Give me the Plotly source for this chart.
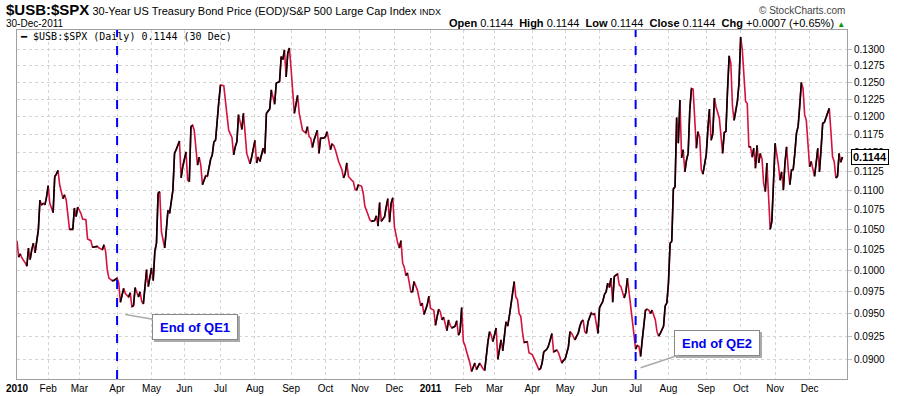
import math
import pandas as pd
import plotly.graph_objects as go

# ---------------- data ----------------
HOLIDAYS = ["2010-01-01", "2010-01-18", "2010-02-15", "2010-04-02", "2010-05-31", "2010-07-05",
            "2010-09-06", "2010-11-25", "2010-12-24", "2011-01-17", "2011-02-21", "2011-04-22",
            "2011-05-30", "2011-07-04", "2011-09-05", "2011-11-24", "2011-12-26"]

# trading-session number (0 = 4 Jan 2010 ... 503 = 30 Dec 2011)
SESSIONS = [
    0, 1, 2, 3, 5, 6, 7, 8, 9, 10, 11, 13, 14, 15, 16, 17, 18, 19, 20, 22, 23, 24, 25, 26, 28, 29, 30, 31, 32,
    34, 35, 36, 37, 39, 40, 42, 43, 45, 46, 49, 50, 52, 53, 54, 55, 56, 58, 59, 61, 62, 63, 65, 66, 68, 69,
    70, 71, 72, 74, 75, 76, 77, 78, 79, 80, 82, 83, 84, 85, 86, 87, 88, 90, 91, 92, 93, 95, 96, 97, 99, 100,
    101, 103, 104, 105, 106, 107, 108, 110, 111, 112, 113, 115, 116, 118, 119, 120, 121, 123, 124, 126, 128,
    129, 131, 132, 133, 134, 135, 136, 137, 138, 139, 140, 142, 143, 145, 146, 147, 148, 150, 151, 152, 154,
    155, 157, 158, 160, 161, 162, 163, 164, 165, 166, 167, 168, 169, 171, 172, 173, 174, 176, 177, 178, 179,
    180, 181, 183, 184, 185, 187, 188, 189, 191, 192, 193, 194, 196, 197, 198, 199, 200, 201, 202, 204, 205,
    206, 207, 208, 210, 211, 212, 214, 215, 216, 218, 219, 220, 221, 222, 224, 225, 226, 227, 228, 229, 230,
    232, 233, 234, 235, 236, 237, 238, 240, 241, 242, 244, 246, 247, 248, 250, 251, 252, 254, 255,
    256, 257, 258, 259, 260, 262, 263, 264, 265, 267, 268, 269, 270, 271, 272, 273, 274, 276, 277, 279, 280,
    282, 284, 285, 287, 288, 289, 290, 292, 293, 295, 296, 298, 299, 300, 302, 303, 304, 305, 306, 307, 308,
    309, 311, 312, 314, 315, 316, 318, 319, 320, 321, 323, 324, 326, 327, 329, 330, 332, 333, 334, 336, 337,
    338, 340, 341, 342, 343, 344, 345, 346, 347, 348, 350, 351, 352, 353, 354, 355, 357, 358, 359, 360, 361,
    362, 363, 364, 366, 367, 368, 370, 371, 372, 374, 375, 376, 377, 378, 379, 380, 381, 383,
    384, 385, 386, 387, 389, 390, 391, 392, 394, 395, 396, 397, 398, 399, 400, 401, 402, 403, 404, 405, 406,
    407, 408, 409, 410, 411, 412, 414, 415, 416, 417, 418, 420, 421, 422, 423, 424, 425, 426, 428, 429, 430,
    431, 432, 433, 434, 435, 436, 437, 439, 440, 441, 442, 443, 444, 445, 446, 447, 448, 449, 450, 451, 452,
    453, 454, 455, 456, 457, 458, 459, 460, 461, 462, 464, 465, 466, 467, 468, 469, 470, 471, 472, 473, 474,
    475, 476, 477, 478, 479, 480, 481, 482, 483, 484, 485, 486, 487, 488, 489, 490, 491, 492, 493, 495, 496,
    497, 498, 499, 500, 501, 502, 503,
]

RATIO = [
    0.1036, 0.1016, 0.1020, 0.1015, 0.1009, 0.1005, 0.1027, 0.1013, 0.1025, 0.1033, 0.1021, 0.1049, 0.1087,
    0.1081, 0.1083, 0.1081, 0.1091, 0.1106, 0.1083, 0.1071, 0.1118, 0.1121, 0.1126, 0.1107, 0.1089, 0.1094,
    0.1087, 0.1066, 0.1050, 0.1050, 0.1077, 0.1066, 0.1078, 0.1070, 0.1063, 0.1062, 0.1038, 0.1036, 0.1028,
    0.1029, 0.1027, 0.1025, 0.1031, 0.1023, 0.1001, 0.0991, 0.0988, 0.0988, 0.0991, 0.0985, 0.0963, 0.0979,
    0.0973, 0.0969, 0.0974, 0.0958, 0.0959, 0.0980, 0.0969, 0.0975, 0.0964, 0.0961, 0.0981, 0.1001, 0.0981,
    0.1003, 0.0988, 0.1023, 0.1033, 0.1096, 0.1098, 0.1047, 0.1027, 0.1049, 0.1074, 0.1070, 0.1100, 0.1149,
    0.1154, 0.1166, 0.1116, 0.1131, 0.1151, 0.1113, 0.1111, 0.1186, 0.1188, 0.1181, 0.1133, 0.1144, 0.1133,
    0.1107, 0.1119, 0.1118, 0.1141, 0.1147, 0.1165, 0.1167, 0.1222, 0.1246, 0.1245, 0.1200,
    0.1181, 0.1171, 0.1147, 0.1158, 0.1165, 0.1203, 0.1191, 0.1182, 0.1205, 0.1172, 0.1149, 0.1135, 0.1144,
    0.1167, 0.1136, 0.1144, 0.1138, 0.1156, 0.1149, 0.1205, 0.1211, 0.1239, 0.1218, 0.1249, 0.1251, 0.1289,
    0.1284, 0.1299, 0.1258, 0.1294, 0.1302, 0.1271, 0.1234, 0.1205, 0.1231, 0.1205, 0.1193, 0.1181, 0.1177,
    0.1186, 0.1172, 0.1170, 0.1157, 0.1167, 0.1181, 0.1149, 0.1170, 0.1170, 0.1172, 0.1179, 0.1154, 0.1162,
    0.1160, 0.1154, 0.1138, 0.1131, 0.1127, 0.1116, 0.1122, 0.1136, 0.1118, 0.1113, 0.1111, 0.1101, 0.1100,
    0.1107, 0.1105, 0.1096, 0.1079, 0.1068, 0.1062, 0.1060, 0.1061, 0.1067, 0.1054, 0.1084, 0.1060, 0.1066,
    0.1079, 0.1089, 0.1059, 0.1083, 0.1090, 0.1053, 0.1033, 0.1027, 0.1036, 0.1009, 0.1004, 0.0994, 0.0997,
    0.0975, 0.0975, 0.0987, 0.0977, 0.0959, 0.0962, 0.0949, 0.0960, 0.0970, 0.0956, 0.0954, 0.0937,
    0.0947, 0.0955, 0.0952, 0.0943, 0.0946, 0.0931, 0.0943, 0.0937, 0.0934, 0.0936, 0.0942, 0.0926, 0.0930,
    0.0957, 0.0919, 0.0915, 0.0908, 0.0896, 0.0887, 0.0896, 0.0889, 0.0896, 0.0890, 0.0888, 0.0919, 0.0930,
    0.0926, 0.0919, 0.0934, 0.0900, 0.0921, 0.0909, 0.0941, 0.0936, 0.0947, 0.0973, 0.0987, 0.0969, 0.0966,
    0.0950, 0.0947, 0.0930, 0.0918, 0.0919, 0.0907, 0.0905, 0.0900, 0.0897, 0.0889, 0.0890, 0.0896, 0.0908,
    0.0911, 0.0915, 0.0928, 0.0908, 0.0910, 0.0907, 0.0896, 0.0899, 0.0900, 0.0913, 0.0930, 0.0928, 0.0921,
    0.0925, 0.0928, 0.0936, 0.0941, 0.0943, 0.0930, 0.0928, 0.0941, 0.0951, 0.0949, 0.0950, 0.0939, 0.0928,
    0.0957, 0.0964, 0.0972, 0.0975, 0.0985, 0.0980, 0.0991, 0.0963, 0.0993, 0.0996, 0.0983, 0.0981, 0.0968,
    0.0974, 0.0991, 0.0960, 0.0939, 0.0925, 0.0911, 0.0915, 0.0914, 0.0903, 0.0921, 0.0954,
    0.0955, 0.0954, 0.0950, 0.0954, 0.0943, 0.0930, 0.0925, 0.0928, 0.0936, 0.0959, 0.0962, 0.0985, 0.1033,
    0.1035, 0.1102, 0.1104, 0.1199, 0.1163, 0.1224, 0.1143, 0.1154, 0.1124, 0.1140, 0.1149, 0.1210, 0.1241,
    0.1240, 0.1156, 0.1179, 0.1172, 0.1127, 0.1121, 0.1147, 0.1184, 0.1211, 0.1167, 0.1176, 0.1227, 0.1214,
    0.1198, 0.1174, 0.1149, 0.1178, 0.1179, 0.1239, 0.1290, 0.1279, 0.1215, 0.1195, 0.1222, 0.1249, 0.1319,
    0.1299, 0.1263, 0.1222, 0.1219, 0.1158, 0.1158, 0.1144, 0.1156, 0.1129, 0.1160, 0.1136, 0.1149, 0.1142,
    0.1109, 0.1098, 0.1136, 0.1089, 0.1050, 0.1060, 0.1109, 0.1163, 0.1133, 0.1113, 0.1124, 0.1100, 0.1136,
    0.1158, 0.1127, 0.1107, 0.1127, 0.1127, 0.1149, 0.1177, 0.1186, 0.1215, 0.1250, 0.1241, 0.1203, 0.1195,
    0.1156, 0.1131, 0.1138, 0.1127, 0.1118, 0.1136, 0.1156, 0.1124, 0.1154, 0.1191, 0.1192, 0.1199, 0.1212,
    0.1179, 0.1144, 0.1138, 0.1116, 0.1118, 0.1149, 0.1137, 0.1144,
]

MONTH_LABELS = ["<b>2010</b>", "Feb", "Mar", "Apr", "May", "Jun", "Jul", "Aug", "Sep", "Oct", "Nov", "Dec",
                "<b>2011</b>", "Feb", "Mar", "Apr", "May", "Jun", "Jul", "Aug", "Sep", "Oct", "Nov", "Dec"]
Y_TICKS = [0.0900, 0.0925, 0.0950, 0.0975, 0.1000, 0.1025, 0.1050, 0.1075, 0.1100, 0.1125,
           0.1150, 0.1175, 0.1200, 0.1225, 0.1250, 0.1275, 0.1300]
EVENT_DATES = ["2010-04-01", "2011-07-01"]
EVENT_LABELS = ["End of QE1", "End of QE2"]
LAST_VALUE = 0.1144

# ---------------- calendar ----------------
trading_days = pd.bdate_range("2010-01-01", "2011-12-30", freq="C", holidays=HOLIDAYS)
month_key = trading_days.year * 100 + trading_days.month
tick_sessions = [i for i in range(len(trading_days)) if i == 0 or month_key[i] != month_key[i - 1]]
event_sessions = [int(trading_days.get_indexer([pd.Timestamp(d)])[0]) for d in EVENT_DATES]

RED = "#d4123c"
fig = go.Figure()

# base line in red, rising segments drawn over it in black
fig.add_trace(go.Scatter(x=SESSIONS, y=RATIO, mode="lines",
                         line=dict(color=RED, width=1.6), hoverinfo="skip", showlegend=False))
up_x, up_y = [], []
for i in range(len(SESSIONS) - 1):
    if RATIO[i + 1] >= RATIO[i]:
        up_x += [SESSIONS[i], SESSIONS[i + 1], None]
        up_y += [RATIO[i], RATIO[i + 1], None]
fig.add_trace(go.Scatter(x=up_x, y=up_y, mode="lines", connectgaps=False,
                         line=dict(color="black", width=1.6), hoverinfo="skip", showlegend=False))

# QE end markers
for s in event_sessions:
    fig.add_shape(type="line", xref="x", yref="paper", x0=s, x1=s, y0=0, y1=1,
                  line=dict(color="#0000ff", width=2, dash="dash"), layer="above")

# callout annotations (shadow first, then box)
callouts = [
    dict(x=event_sessions[0] + 5, y=0.0949, ax=70, ay=12, text=EVENT_LABELS[0]),
    dict(x=event_sessions[1] + 3, y=0.0891, ax=76, ay=-25, text=EVENT_LABELS[1]),
]
F = "Arial, Liberation Sans, sans-serif"
for c in callouts:
    base = dict(x=c["x"], y=math.log10(c["y"]), xref="x", yref="y", ax=c["ax"], ay=c["ay"],
                showarrow=True, arrowhead=0, width=80, height=20, align="center")
    fig.add_annotation(**base, text=" ", font=dict(color="#aaaaaa", size=13, family=F),
                       bgcolor="#aaaaaa", bordercolor="#aaaaaa", borderwidth=1, borderpad=2,
                       arrowcolor="rgba(0,0,0,0)", xshift=2, yshift=-2)
    fig.add_annotation(**base, text="<b>" + c["text"] + "</b>", font=dict(color="#0000ee", size=13, family=F),
                       bgcolor="white", bordercolor="#888888", borderwidth=1, borderpad=2,
                       arrowcolor="#aaaaaa", arrowwidth=1.5)

# header texts
fig.add_annotation(xref="paper", yref="paper", x=-0.0157, y=1.058, xanchor="left", yanchor="middle",
                   showarrow=False, font=dict(family=F, size=11, color="black"),
                   text="<span style='font-size:15px'><b>$USB:$SPX</b></span> 30-Year US Treasury Bond Price "
                        "(EOD)/S&P 500 Large Cap Index <span style='font-size:9px'>INDX</span>")
fig.add_annotation(xref="paper", yref="paper", x=-0.0157, y=1.020, xanchor="left", yanchor="middle",
                   showarrow=False, font=dict(family=F, size=10, color="black"), text="30-Dec-2011")
fig.add_annotation(xref="paper", yref="paper", x=1.0, y=1.055, xanchor="right", yanchor="middle",
                   showarrow=False, font=dict(family=F, size=10, color="#444444"), text="© StockCharts.com")
sp = "\u00a0"
fig.add_annotation(xref="paper", yref="paper", x=1.0, y=1.019, xanchor="right", yanchor="middle",
                   showarrow=False, font=dict(family=F, size=11, color="black"),
                   text=f"<b>Open</b> {LAST_VALUE:.4f}{sp}{sp}<b>High</b> {LAST_VALUE:.4f}{sp}{sp}"
                        f"<b>Low</b> {LAST_VALUE:.4f}{sp}{sp}<b>Close</b> {LAST_VALUE:.4f}{sp}{sp}"
                        f"<b>Chg</b> +0.0007 (+0.65%) <span style='font-size:8px;color:#009900'>▲</span>")
fig.add_annotation(xref="paper", yref="paper", x=0.0015, y=0.980, xanchor="left", yanchor="middle",
                   showarrow=False, font=dict(family="DejaVu Sans Mono, monospace", size=10, color="black"),
                   text=f"<b>━</b> $USB:$SPX (Daily) {LAST_VALUE:.4f} (30 Dec)")
# last value tag
fig.add_annotation(xref="paper", yref="y", x=1.0, y=math.log10(LAST_VALUE), xanchor="left",
                   yanchor="middle", xshift=4, showarrow=False, bgcolor="white", bordercolor="black",
                   borderwidth=1, borderpad=1, font=dict(family=F, size=11, color="black"),
                   text=f"<b>{LAST_VALUE:.4f}</b>")

fig.update_layout(
    width=900, height=396, margin=dict(l=17, r=53, t=30, b=17, autoexpand=False),
    paper_bgcolor="white", plot_bgcolor="white", showlegend=False,
    font=dict(family=F, size=10, color="black"),
    xaxis=dict(range=[0, 505.8], tickvals=tick_sessions, ticktext=MONTH_LABELS, automargin=False,
               showgrid=True, gridcolor="#d4d4d4", griddash="dot", gridwidth=1,
               showline=True, linecolor="#a0a0a0", mirror=True, ticks="", zeroline=False,
               tickfont=dict(family=F, size=10, color="black")),
    yaxis=dict(type="log", side="right", range=[math.log10(0.08792), math.log10(0.13301)],
               tickvals=Y_TICKS, ticktext=[f"{v:.4f}" for v in Y_TICKS], automargin=False,
               showgrid=True, gridcolor="#d4d4d4", griddash="dot", gridwidth=1,
               showline=True, linecolor="#a0a0a0", mirror=True, ticks="outside", ticklen=4,
               tickcolor="#c0c0c0", zeroline=False, tickfont=dict(family=F, size=10, color="black")),
)

fig.write_html("out.html", config={"displayModeBar": False},
               post_script="document.body.style.margin='0px';")
